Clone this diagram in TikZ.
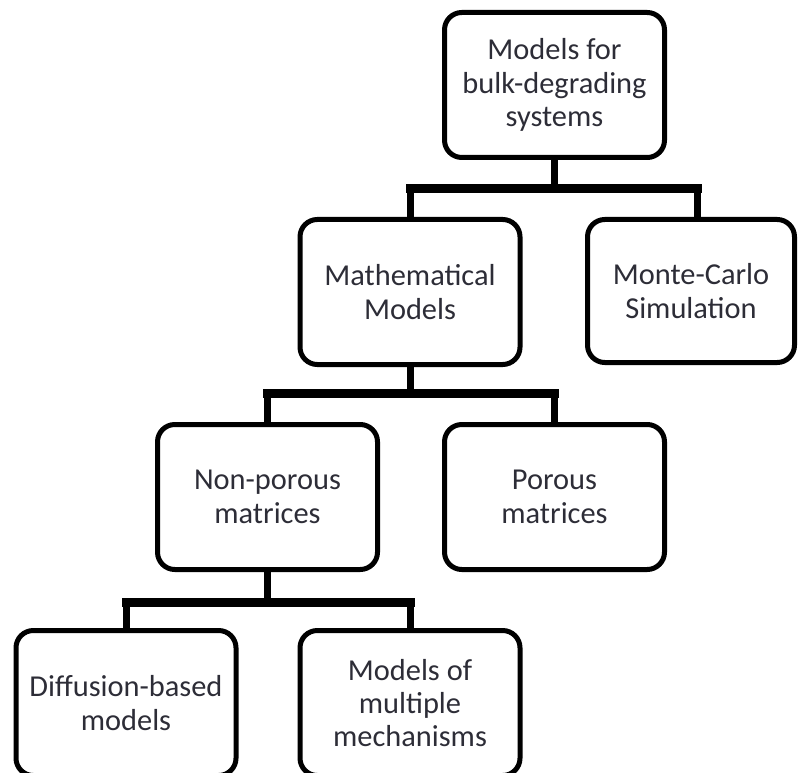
\documentclass[tikz,border=0pt]{standalone}
\usepackage{fontspec}
\setmainfont{Carlito}
\definecolor{labelgray}{RGB}{45,45,55}

\tikzset{every picture/.style={line width=0.75pt}}
\tikzset{
  mbox/.style={draw, line width=3.75pt, rounded corners=13pt, align=center,
    font=\fontsize{22.8}{25}\selectfont, text=labelgray, inner sep=0pt,
    minimum width=165pt, minimum height=108.75pt},
  stem/.style={line width=5.25pt},
  bar/.style={line width=6.75pt, line cap=rect}
}

\begin{document}
\begin{tikzpicture}[x=0.75pt,y=0.75pt,yscale=-1,xscale=1]
	\useasboundingbox (0,0) rectangle (798,773);
	
	%Rounded Rect boxes
	\node [mbox] (bulk) at (554.5,85) {Models for\\bulk-degrading\\systems};
	\node [mbox] (math) at (410,292) {Mathematical\\Models};
	\node [mbox, minimum width=155.25pt, minimum height=107.25pt] (monte) at (691,291) {Monte-Carlo\\Simulation};
	\node [mbox] (nonpor) at (267.5,497) {Non-porous\\matrices};
	\node [mbox] (porous) at (554.5,497) {Porous\\matrices};
	\node [mbox] (diffus) at (126,703) {Diffusion-based\\models};
	\node [mbox] (multi) at (410,703) {Models of\\multiple\\mechanisms};
	
	%Bar heights
	\coordinate (bar1) at (0,189);
	\coordinate (bar2) at (0,393.5);
	\coordinate (bar3) at (0,602);
	
	%Straight Lines, first level
	\draw [stem] (bulk.south) -- (bulk.south |- bar1);
	\draw [bar] (math.north |- bar1) -- ([xshift=4.5pt]monte.north |- bar1);
	\draw [stem] (math.north |- bar1) -- (math.north);
	\draw [stem] ([xshift=4.5pt]monte.north |- bar1) -- ([xshift=4.5pt]monte.north);
	
	%Straight Lines, second level
	\draw [stem] (math.south) -- (math.south |- bar2);
	\draw [bar] (nonpor.north |- bar2) -- (porous.north |- bar2);
	\draw [stem] (nonpor.north |- bar2) -- (nonpor.north);
	\draw [stem] (porous.north |- bar2) -- (porous.north);
	
	%Straight Lines, third level
	\draw [stem] (nonpor.south) -- (nonpor.south |- bar3);
	\draw [bar] (diffus.north |- bar3) -- (multi.north |- bar3);
	\draw [stem] (diffus.north |- bar3) -- (diffus.north);
	\draw [stem] (multi.north |- bar3) -- (multi.north);
	
\end{tikzpicture}
\end{document}
